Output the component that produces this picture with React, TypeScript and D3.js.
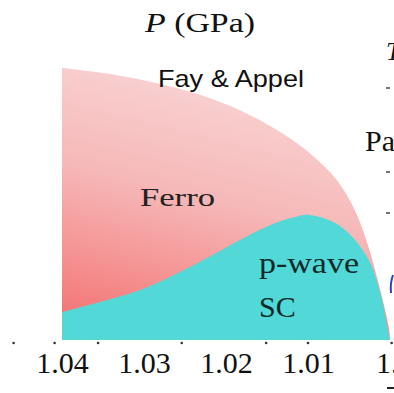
import React, { useEffect, useRef } from "react";
import * as d3 from "d3";

// phase boundaries (x = lattice ratio, y = temperature in arbitrary units)
const ferroX = [1.04, 1.0341, 1.028, 1.022, 1.0171, 1.0134, 1.0098, 1.0065, 1.0043, 1.0027, 1.0015, 1.0006, 1.0001, 1.0];
const ferroY = [2.72, 2.66, 2.56, 2.42, 2.25, 2.08, 1.87, 1.6, 1.3, 0.95, 0.6, 0.3, 0.1, 0];

const scX = [1.04, 1.0345, 1.0305, 1.0244, 1.0183, 1.0146, 1.0116, 1.0098, 1.0061, 1.0028, 1.0012, 1.0002, 1.0];
const scY = [0.28, 0.4, 0.5, 0.73, 1.0, 1.15, 1.23, 1.25, 1.14, 0.83, 0.47, 0.07, 0];

const tickLabels = [1.04, 1.03, 1.02, 1.01];
const tickDots = [1.0459, 1.0409, 1.0356, 1.0254, 1.0151, 1.01, 0.9998];

export default function App() {
    const ref = useRef<SVGSVGElement>(null);

    useEffect(() => {
        const svg = d3.select(ref.current);
        svg.selectAll("*").remove();

        const x = d3.scaleLinear().domain([1.04, 1.0]).range([62, 390]);
        const y = d3.scaleLinear().domain([0, 3]).range([340, 40]);

        const defs = svg.append("defs");
        const grad = defs.append("linearGradient")
            .attr("id", "pink")
            .attr("x1", 0.3).attr("y1", 0)
            .attr("x2", 0).attr("y2", 1);
        grad.append("stop").attr("offset", 0).attr("stop-color", "#f9d2d2");
        grad.append("stop").attr("offset", 0.4).attr("stop-color", "#f6b8b8");
        grad.append("stop").attr("offset", 0.75).attr("stop-color", "#f58c8c");
        grad.append("stop").attr("offset", 1).attr("stop-color", "#f26c6c");

        const area = (xs: number[], ys: number[]) => d3.area<number>()
            .x((_, i) => x(xs[i]))
            .y0(y(0))
            .y1((_, i) => y(ys[i]))
            .curve(d3.curveCatmullRom)(xs);

        svg.append("path").attr("d", area(ferroX, ferroY)).attr("fill", "url(#pink)");
        svg.append("path").attr("d", area(scX, scY)).attr("fill", "#52d8d6");

        // tick dots
        svg.append("g").selectAll("circle")
            .data(tickDots)
            .enter().append("circle")
            .attr("cx", d => x(d))
            .attr("cy", 343)
            .attr("r", 1.3)
            .attr("fill", "#333");

        const serif = "Liberation Serif";

        const axis = d3.axisBottom(x)
            .tickValues(tickLabels)
            .tickSize(0)
            .tickPadding(0)
            .tickFormat(d3.format(".2f"));
        const g = svg.append("g").attr("transform", "translate(0,373)").call(axis);
        g.attr("font-family", serif).attr("font-size", 30);
        g.select(".domain").remove();
        g.selectAll("text")
            .attr("dy", 0)
            .style("font-family", serif)
            .style("font-size", "30px")
            .attr("fill", "#111");

        // neighbouring panel label cut by the edge
        svg.append("text").attr("x", 376).attr("y", 373)
            .attr("font-family", serif).attr("font-size", 30).attr("fill", "#111")
            .text("1.0");
        svg.append("line").attr("x1", 387).attr("x2", 394).attr("y1", 388).attr("y2", 388)
            .attr("stroke", "#222").attr("stroke-width", 2);

        const title = svg.append("text").attr("x", 145).attr("y", 32)
            .attr("font-family", serif).attr("font-size", 27).attr("fill", "#111")
            .attr("textLength", 110).attr("lengthAdjust", "spacingAndGlyphs");
        title.append("tspan").attr("font-style", "italic").text("P");
        title.append("tspan").text(" (GPa)");

        svg.append("text").attr("x", 158).attr("y", 87)
            .attr("font-family", "Liberation Sans").attr("font-size", 24).attr("fill", "#111")
            .attr("textLength", 146).attr("lengthAdjust", "spacingAndGlyphs")
            .text("Fay & Appel");

        svg.append("text").attr("x", 140).attr("y", 206)
            .attr("font-family", serif).attr("font-size", 26).attr("fill", "#222")
            .attr("textLength", 75).attr("lengthAdjust", "spacingAndGlyphs")
            .text("Ferro");

        svg.append("text").attr("x", 259).attr("y", 273)
            .attr("font-family", serif).attr("font-size", 29).attr("fill", "#0d2a2a")
            .attr("textLength", 100).attr("lengthAdjust", "spacingAndGlyphs")
            .text("p-wave");
        svg.append("text").attr("x", 259).attr("y", 317)
            .attr("font-family", serif).attr("font-size", 30).attr("fill", "#0d2a2a")
            .text("SC");

        // fragments of the next panel on the right
        svg.append("text").attr("x", 386).attr("y", 60)
            .attr("font-family", serif).attr("font-style", "italic").attr("font-size", 26).attr("fill", "#111")
            .text("T");
        svg.append("text").attr("x", 365).attr("y", 151)
            .attr("font-family", serif).attr("font-size", 30).attr("fill", "#111")
            .text("Pa");
        [88, 172, 213].forEach(cy => {
            svg.append("line").attr("x1", 386).attr("x2", 390).attr("y1", cy).attr("y2", cy)
                .attr("stroke", "#444").attr("stroke-width", 1.5);
        });
        svg.append("path").attr("d", "M393,275 Q390,283 391,293")
            .attr("fill", "none").attr("stroke", "#2a3fd0").attr("stroke-width", 2);
    }, []);

    return (
        <svg ref={ref} width={394} height={393}
            style={{ position: "absolute", left: 0, top: 0, background: "#fff" }} />
    );
}
